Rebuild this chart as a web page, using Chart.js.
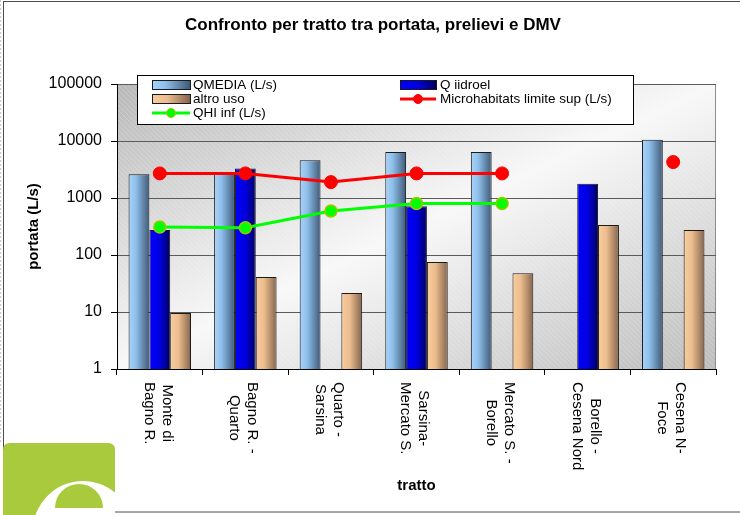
<!DOCTYPE html>
<html>
<head>
<meta charset="utf-8">
<script src="https://cdn.jsdelivr.net/npm/chart.js@4.4.1/dist/chart.umd.min.js"></script>
<style>
    html, body { margin: 0; padding: 0; background: #fff; }
</style>
</head>
<body>
<canvas id="myChart" width="740" height="515"></canvas>
<script>
const chartTitle = 'Confronto per tratto tra portata, prelievi e DMV';
const categories = [
    ['Monte di', 'Bagno R.'],
    ['Bagno R. -', 'Quarto'],
    ['Quarto -', 'Sarsina'],
    ['Sarsina-', 'Mercato S.'],
    ['Mercato S. -', 'Borello'],
    ['Borello -', 'Cesena Nord'],
    ['Cesena N-', 'Foce']
];
const qMedia   = [2600, 2700, 4600, 6400, 6400, null, 10500];
const qIdroel  = [275, 3300, null, 720, null, 1770, null];
const altroUso = [9.6, 41, 21.5, 75, 48, 335, 275];
const microSup = [2700, 2700, 1900, 2700, 2700, null, 4270];
const qhiInf   = [310, 300, 590, 800, 800, null, null];
const yTicks   = [1, 10, 100, 1000, 10000, 100000];

const FONT = '"Liberation Sans", Arial, sans-serif';
Chart.defaults.font.family = FONT;
Chart.defaults.color = '#000';

function hGradient(ctx, x0, x1, stops) {
    const g = ctx.createLinearGradient(x0, 0, x1, 0);
    stops.forEach(s => g.addColorStop(s[0], s[1]));
    return g;
}

const excelLook = {
    id: 'excelLook',
    beforeDraw(chart) {
        const { ctx, chartArea: a } = chart;
        ctx.save();
        // outer frame
        ctx.strokeStyle = '#4d4d4d';
        ctx.lineWidth = 1;
        ctx.strokeRect(3.5, 1.5, 760, 510.5);
        ctx.strokeStyle = '#c8c8c8';
        ctx.setLineDash([2, 2]);
        ctx.beginPath(); ctx.moveTo(0.5, 0); ctx.lineTo(0.5, 443); ctx.stroke();
        ctx.setLineDash([]);

        // title
        ctx.font = 'bold 17px ' + FONT;
        ctx.fillStyle = '#000';
        ctx.textAlign = 'center';
        ctx.textBaseline = 'middle';
        ctx.fillText(chartTitle, 373, 25);

        // plot background: dark corners top-left / bottom-right, light along the other diagonal
        const w = a.right - a.left, h = a.bottom - a.top;
        const cx = (a.left + a.right) / 2, cy = (a.top + a.bottom) / 2;
        const len = Math.hypot(w, h);
        const nx = h / len, ny = w / len, d = w * h / len;
        const g = ctx.createLinearGradient(cx - nx * d, cy - ny * d, cx + nx * d, cy + ny * d);
        g.addColorStop(0, '#b8b8b8');
        g.addColorStop(0.5, '#f8f8f8');
        g.addColorStop(1, '#bcbcbc');
        ctx.fillStyle = g;
        ctx.fillRect(a.left, a.top, w, h);

        // faint diagonal hatch
        ctx.beginPath();
        ctx.rect(a.left, a.top, w, h);
        ctx.clip();
        ctx.strokeStyle = 'rgba(255,255,255,0.22)';
        ctx.beginPath();
        for (let x = a.left - h; x < a.right; x += 5) {
            ctx.moveTo(x, a.top);
            ctx.lineTo(x + h, a.bottom);
        }
        ctx.stroke();
        ctx.restore();

        ctx.save();
        ctx.strokeStyle = '#8c8c8c';
        ctx.strokeRect(a.left + 0.5, a.top + 0.5, w - 1, h);
        ctx.restore();
    },
    afterDatasetsUpdate(chart) {
        chart.data.datasets.forEach((ds, i) => {
            if (!ds.stops) return;
            chart.getDatasetMeta(i).data.forEach(bar => {
                const half = bar.width / 2;
                bar.options.backgroundColor = hGradient(chart.ctx, bar.x - half, bar.x + half, ds.stops);
            });
        });
    },
    afterDraw(chart) {
        const { ctx, chartArea: a } = chart;
        const xs = chart.scales.x;

        // category labels, rotated clockwise
        ctx.save();
        ctx.font = '15px ' + FONT;
        ctx.fillStyle = '#000';
        ctx.textAlign = 'center';
        ctx.textBaseline = 'middle';
        categories.forEach((lines, i) => {
            const x = xs.getPixelForValue(i);
            const maxW = Math.max(...lines.map(l => ctx.measureText(l).width));
            ctx.save();
            ctx.translate(x, xs.top + 13);
            ctx.rotate(Math.PI / 2);
            lines.forEach((l, k) => ctx.fillText(l, maxW / 2, (k - (lines.length - 1) / 2) * 18 + 2));
            ctx.restore();
        });
        ctx.restore();

        // legend box
        const lx = a.left + 20, ly = a.top - 9;
        ctx.save();
        ctx.fillStyle = '#fff';
        ctx.fillRect(lx, ly, 496, 49);
        ctx.strokeStyle = '#000';
        ctx.lineWidth = 1;
        ctx.strokeRect(lx + 0.5, ly + 0.5, 496, 49);
        ctx.font = '13.5px ' + FONT;
        ctx.textBaseline = 'middle';
        ctx.textAlign = 'left';
        chart.data.datasets.forEach((ds, k) => {
            const col = k % 2, row = Math.floor(k / 2);
            const sx = lx + (col ? 263 : 15), tx = lx + (col ? 303 : 56);
            const sy = ly + 10 + row * 14;
            const sw = col ? 36 : 38;
            if (ds.stops) {
                ctx.fillStyle = hGradient(ctx, sx, sx + sw, ds.stops);
                ctx.fillRect(sx, sy - 4.5, sw, 9);
                ctx.strokeStyle = '#1a1a1a';
                ctx.strokeRect(sx + 0.5, sy - 4.5, sw, 9);
            } else {
                ctx.strokeStyle = ds.borderColor;
                ctx.lineWidth = 3;
                ctx.beginPath(); ctx.moveTo(sx, sy); ctx.lineTo(sx + sw, sy); ctx.stroke();
                ctx.fillStyle = ds.pointBackgroundColor;
                ctx.strokeStyle = ds.pointBorderColor;
                ctx.lineWidth = 1;
                ctx.beginPath(); ctx.arc(sx + sw / 2, sy, 4.5, 0, Math.PI * 2); ctx.fill(); ctx.stroke();
            }
            ctx.fillStyle = '#000';
            ctx.fillText(ds.label, tx, sy + 0.5);
        });
        ctx.restore();

        // logo in the corner
        const green = '#a8ca3c';
        ctx.save();
        const rx = 3, ry = 443, rw = 112, rh = 90, r = 7;
        ctx.beginPath();
        ctx.moveTo(rx + r, ry);
        ctx.lineTo(rx + rw - r, ry);
        ctx.quadraticCurveTo(rx + rw, ry, rx + rw, ry + r);
        ctx.lineTo(rx + rw, ry + rh);
        ctx.lineTo(rx, ry + rh);
        ctx.lineTo(rx, ry + r);
        ctx.quadraticCurveTo(rx, ry, rx + r, ry);
        ctx.closePath();
        ctx.fillStyle = green;
        ctx.fill();
        ctx.clip();
        ctx.fillStyle = '#fff';
        ctx.beginPath(); ctx.arc(83, 531, 50, 0, Math.PI * 2); ctx.fill();
        ctx.fillStyle = green;
        ctx.beginPath(); ctx.arc(79, 508, 24, Math.PI, Math.PI * 2); ctx.closePath(); ctx.fill();
        ctx.restore();
    }
};

new Chart(document.getElementById('myChart'), {
    data: {
        labels: categories,
        datasets: [
            {
                type: 'bar', label: 'QMEDIA (L/s)', data: qMedia, order: 1,
                stops: [[0, '#a8d4fb'], [0.35, '#8fbfea'], [1, '#3e5a78']],
                backgroundColor: () => '#8fbfea', borderColor: '#1a1a1a', borderWidth: 1
            },
            {
                type: 'bar', label: 'Q iidroel', data: qIdroel, order: 1,
                stops: [[0, '#0000ff'], [0.5, '#0000e0'], [1, '#000060']],
                backgroundColor: () => '#0000e0', borderColor: '#1a1a1a', borderWidth: 1
            },
            {
                type: 'bar', label: 'altro uso', data: altroUso, order: 1,
                stops: [[0, '#f9cd9d'], [0.4, '#ecbd8e'], [1, '#84654e']],
                backgroundColor: () => '#ecbd8e', borderColor: '#1a1a1a', borderWidth: 1
            },
            {
                type: 'line', label: 'Microhabitats limite sup (L/s)', data: microSup, order: 0,
                borderColor: '#ff0000', borderWidth: 3, tension: 0, fill: false, spanGaps: false,
                pointRadius: 6.5, pointBackgroundColor: '#ff0000', pointBorderColor: '#ff0000', pointBorderWidth: 1
            },
            {
                type: 'line', label: 'QHI inf (L/s)', data: qhiInf, order: 0,
                borderColor: '#00ff00', borderWidth: 3, tension: 0, fill: false, spanGaps: false,
                pointRadius: 6, pointBackgroundColor: '#00ff00', pointBorderColor: '#a4c400', pointBorderWidth: 1.5
            }
        ]
    },
    options: {
        responsive: false,
        maintainAspectRatio: false,
        animation: false,
        events: [],
        datasets: {
            bar: { categoryPercentage: 0.73, barPercentage: 1 }
        },
        layout: { padding: { left: 0, right: 24, top: 84, bottom: 0 } },
        scales: {
            x: {
                type: 'category',
                offset: true,
                grid: { display: true, drawOnChartArea: false, drawTicks: true, tickLength: 6, offset: true, color: '#000' },
                border: { display: true, color: '#000' },
                ticks: { display: false },
                title: { display: true, text: 'tratto', font: { size: 15, weight: 'bold' }, padding: { top: 0, bottom: 20.5 } },
                afterFit(scale) { scale.height = 146; }
            },
            y: {
                type: 'logarithmic',
                min: 1,
                max: 100000,
                afterBuildTicks(scale) { scale.ticks = yTicks.map(v => ({ value: v })); },
                ticks: { font: { size: 16 }, padding: 9, callback: v => String(v) },
                grid: { color: '#5a5a5a', tickColor: '#000', tickLength: 6, drawTicks: true },
                border: { display: true, color: '#000' },
                title: { display: true, text: 'portata (L/s)', font: { size: 15, weight: 'bold' }, padding: { top: 25, bottom: 0 } },
                afterFit(scale) { scale.width = 117; }
            }
        },
        plugins: {
            legend: { display: false },
            tooltip: { enabled: false },
            title: { display: false }
        }
    },
    plugins: [excelLook]
});
</script>
</body>
</html>
